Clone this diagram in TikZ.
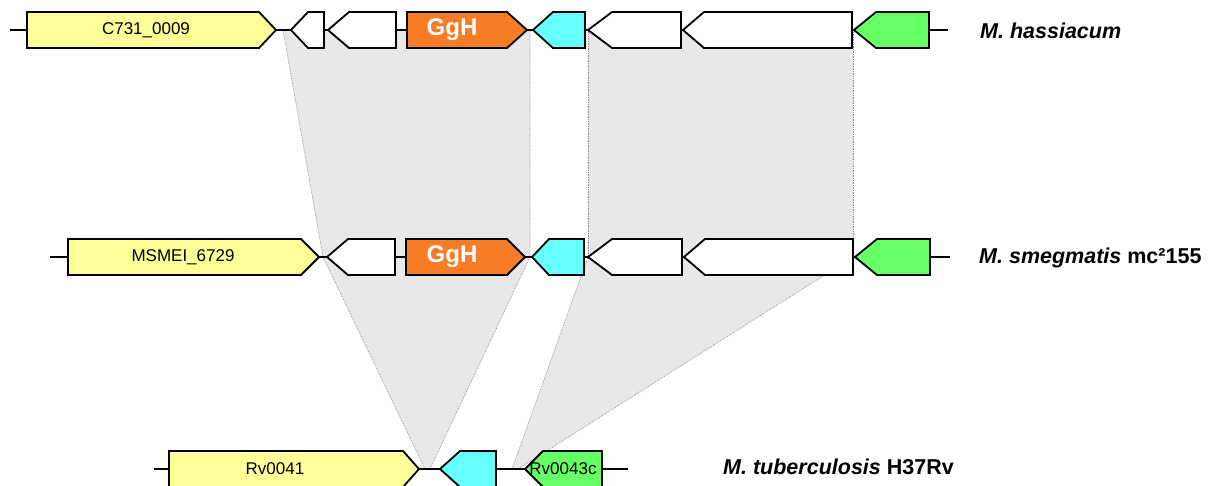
\documentclass[tikz,border=0pt]{standalone}
\usepackage{fontspec}
\setmainfont{Liberation Sans}
\definecolor{gyellow}{HTML}{FFFF99}
\definecolor{gorange}{HTML}{F87C26}
\definecolor{gcyan}{HTML}{66FFFF}
\definecolor{ggreen}{HTML}{66FF66}
\definecolor{shadefill}{HTML}{E8E8E8}
\definecolor{shadeline}{HTML}{8C8C8C}
\tikzset{
  genebox/.style={draw=black, line width=1.8pt, line join=miter},
  backbone/.style={draw=black, line width=1.8pt},
  synteny/.style={fill=shadefill, draw=shadeline, line width=0.7pt, densely dotted},
  genelbl/.style={font=\fontsize{17}{20}\selectfont, inner sep=0pt},
  gghlbl/.style={font=\fontsize{24}{28}\selectfont\bfseries, text=white, inner sep=0pt},
  species/.style={font=\fontsize{21.5}{25}\selectfont\bfseries, anchor=west, inner sep=0pt}
}
% forward gene: y, left, body end, tip, fill
\newcommand\genefwd[5]{\filldraw[genebox, fill=#5] (#2,#1-18) -- (#3,#1-18) -- (#4,#1) -- (#3,#1+18) -- (#2,#1+18) -- cycle;}
% reverse gene: y, tip, body start, right, fill
\newcommand\generev[5]{\filldraw[genebox, fill=#5] (#2,#1) -- (#3,#1-18) -- (#4,#1-18) -- (#4,#1+18) -- (#3,#1+18) -- cycle;}
\begin{document}
\begin{tikzpicture}[x=1pt, y=-1pt]
\useasboundingbox (0,0) rectangle (1210,485);
% synteny corners
\coordinate (a1) at (283,30);  \coordinate (a2) at (530,30);
\coordinate (a3) at (530,257); \coordinate (a4) at (323,257);
\coordinate (b1) at (588,30);  \coordinate (b2) at (853,30);
\coordinate (b3) at (853,257); \coordinate (b4) at (588,257);
\coordinate (c1) at (430,469); \coordinate (c2) at (425,469);
\coordinate (d1) at (518,469); \coordinate (d2) at (512,469);
\path[synteny] (a1) -- (a2) -- (a3) -- (a4) -- cycle;
\path[synteny] (b1) -- (b2) -- (b3) -- (b4) -- cycle;
\path[synteny] (a4) -- (a3) -- (c1) -- (c2) -- cycle;
\path[synteny] (b4) -- (b3) -- (d1) -- (d2) -- cycle;
% backbones
\coordinate (t0) at (10,30);   \coordinate (t1) at (948,30);
\coordinate (m0) at (50,257);  \coordinate (m1) at (950,257);
\coordinate (u0) at (154,469); \coordinate (u1) at (628,469);
\draw[backbone] (t0) -- (t1);
\draw[backbone] (m0) -- (m1);
\draw[backbone] (u0) -- (u1);
% top row: M. hassiacum
\genefwd{30}{27}{259}{276}{gyellow}
\generev{30}{291}{308}{324}{white}
\generev{30}{328}{349}{396}{white}
\genefwd{30}{407}{507}{527}{gorange}
\generev{30}{533}{553}{585}{gcyan}
\generev{30}{588}{612}{681}{white}
\generev{30}{683}{704}{852}{white}
\generev{30}{854}{876}{929}{ggreen}
\node[genelbl] (lc731) at (146,30) {C731\_0009};
\node[gghlbl] (lggh1) at (452,30) {GgH};
\node[species] (sp1) at (980,31) {\itshape M. hassiacum};
% middle row: M. smegmatis
\genefwd{257}{68}{301}{319}{gyellow}
\generev{257}{327}{348}{395}{white}
\genefwd{257}{406}{507}{525}{gorange}
\generev{257}{532}{549}{584}{gcyan}
\generev{257}{588}{612}{682}{white}
\generev{257}{684}{705}{853}{white}
\generev{257}{855}{877}{930}{ggreen}
\node[genelbl] (lmsmei) at (183,257) {MSMEI\_6729};
\node[gghlbl] (lggh2) at (452,257) {GgH};
\node[species] (sp2) at (979,258) {{\itshape M. smegmatis} mc²155};
% bottom row: M. tuberculosis
\genefwd{469}{169}{403}{419}{gyellow}
\generev{469}{440}{460}{496}{gcyan}
\generev{469}{525}{543}{602}{ggreen}
\node[genelbl] (lrv41) at (275,469) {Rv0041};
\node[genelbl] (lrv43) at (563,469) {Rv0043c};
\node[species] (sp3) at (723,467) {{\itshape M. tuberculosis} H37Rv};
\end{tikzpicture}
\end{document}
